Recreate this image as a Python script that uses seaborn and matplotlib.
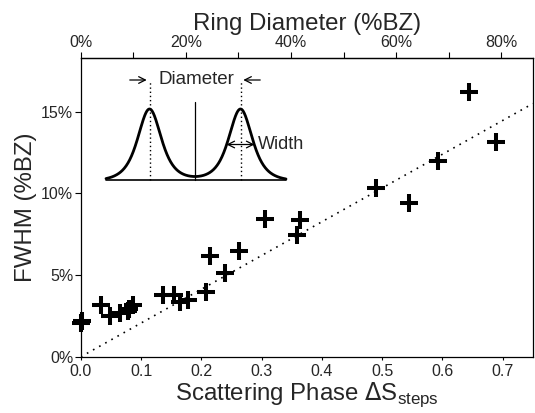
import numpy as np
import pandas as pd
import matplotlib
matplotlib.use("Agg")
import matplotlib.pyplot as plt
import seaborn as sns
from matplotlib.ticker import MultipleLocator, FuncFormatter

# ---- data ----
phase = [0.000, 0.002, 0.033, 0.049, 0.065, 0.078, 0.086, 0.080, 0.136, 0.154, 0.165,
         0.178, 0.208, 0.215, 0.240, 0.262, 0.306, 0.358, 0.364, 0.490, 0.545,
         0.592, 0.644, 0.689]
fwhm = [2.05, 2.20, 3.19, 2.52, 2.68, 2.82, 3.17, 2.95, 3.78, 3.78, 3.33,
        3.50, 3.94, 6.18, 5.16, 6.48, 8.46, 7.44, 8.37, 10.35, 9.43,
        11.97, 16.18, 13.15]
fit_x = [0.0, 0.75]
fit_y = [0.0, 15.5]
ring_per_phase = 114.7
bottom_ticks = [0.0, 0.1, 0.2, 0.3, 0.4, 0.5, 0.6, 0.7]
left_ticks = [0, 5, 10, 15]
top_ticks = [0, 20, 40, 60, 80]

sns.set_theme(style="white")
plt.rcParams['font.family'] = ['Liberation Sans', 'DejaVu Sans']

fig = plt.figure(figsize=(5.35, 4.13), dpi=100)
ax = fig.add_axes([0.151, 0.136, 0.845, 0.724])

df = pd.DataFrame({"phase": phase, "fwhm": fwhm})
sns.lineplot(x=fit_x, y=fit_y, ax=ax, color="black", linewidth=1.2,
             linestyle=(0, (1, 3.2)), zorder=1)
sns.scatterplot(data=df, x="phase", y="fwhm", ax=ax, marker="+", color="black",
                s=180, linewidth=2.9, zorder=3, clip_on=False)

ax.set_xlim(0, 0.75)
ax.set_ylim(0, 18.3)
ax.set_xticks(bottom_ticks)
ax.set_xticklabels([f"{t:.1f}" for t in bottom_ticks])
ax.set_yticks(left_ticks)
ax.set_yticklabels([f"{t}%" for t in left_ticks])
ax.tick_params(axis="y", direction="out", length=4, width=0.8, color="black",
               labelsize=11.5, pad=1.5, left=True)
ax.tick_params(axis="x", direction="out", length=2, width=0.8, color="black",
               labelsize=11.5, pad=3, bottom=True)
for sp in ax.spines.values():
    sp.set_color("black")
    sp.set_linewidth(0.9)

ax.set_xlabel(r"Scattering Phase $\Delta$S$_{\mathregular{steps}}$", fontsize=17.3, labelpad=1)
ax.set_ylabel("FWHM (%BZ)", fontsize=17.3, labelpad=3)

sec = ax.secondary_xaxis("top", functions=(lambda x: x * ring_per_phase,
                                           lambda d: d / ring_per_phase))
sec.set_xticks(top_ticks)
sec.xaxis.set_minor_locator(MultipleLocator(10))
sec.xaxis.set_major_formatter(FuncFormatter(lambda v, p: f"{v:.0f}%"))
sec.tick_params(axis="x", which="both", direction="out", length=4, width=0.8,
                color="black", labelsize=11.5, pad=1.5)
sec.set_xlabel("Ring Diameter (%BZ)", fontsize=17.3, labelpad=4)
sec.spines["top"].set_linewidth(0.9)

# ---- inset schematic ----
ins = fig.add_axes([100 / 535, 1 - 186 / 413, 195 / 535, 115 / 413])
ins.set_xlim(-95, 100)
ins.set_ylim(-6, 109)
ins.axis("off")
xs = np.linspace(-89, 91, 600)
def peak(x, c, g=21.75):
    return 1.0 / (1 + ((x - c) / g) ** 2) ** 2
prof = peak(xs, -45.5) + peak(xs, 45.5)
prof = (prof - prof.min() * 0.6)
prof = prof / prof.max() * 71
prof = np.clip(prof, 0, None)
ins.plot(xs, prof, color="black", lw=2.0, solid_capstyle="round")
ins.plot([-89, 91], [0, 0], color="black", lw=1.2)
ins.plot([0, 0], [0, 78], color="black", lw=0.9)
for c in (-45.5, 45.5):
    ins.plot([c, c], [0, 100], color="black", lw=1.0, linestyle=(0, (1, 2)))
ins.annotate("", xy=(-45.5, 100), xytext=(-68, 100),
             arrowprops=dict(arrowstyle="->", lw=0.9, color="black"))
ins.annotate("", xy=(45.5, 100), xytext=(68, 100),
             arrowprops=dict(arrowstyle="->", lw=0.9, color="black"))
ins.text(1, 100, "Diameter", ha="center", va="center", fontsize=13.5)
ins.annotate("", xy=(31.5, 35.5), xytext=(59.5, 35.5),
             arrowprops=dict(arrowstyle="<->", lw=0.9, color="black",
                             shrinkA=0, shrinkB=0))
ins.text(63, 35.5, "Width", ha="left", va="center", fontsize=13)

fig.savefig("out.png", dpi=100)
